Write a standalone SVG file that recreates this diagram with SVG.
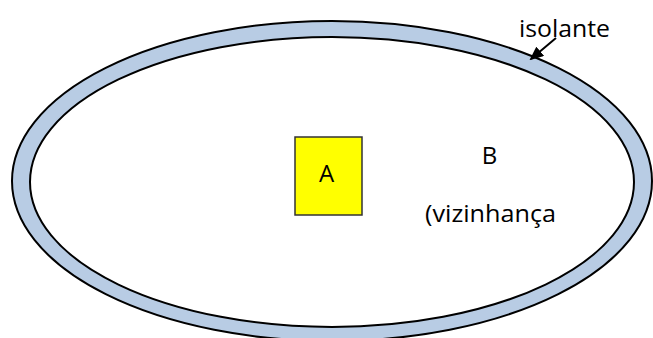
<svg xmlns="http://www.w3.org/2000/svg" width="653" height="338" viewBox="0 0 653 338">
<style>
.t{font-family:"Open Sans","Liberation Sans",sans-serif;font-size:24px;fill:#000}
</style>
<defs>
<marker id="ah" markerWidth="14" markerHeight="12" refX="12" refY="6" orient="auto" markerUnits="userSpaceOnUse">
<path d="M0,0 L14,6 L0,12 z" fill="#000"/>
</marker>
</defs>
<rect width="653" height="338" fill="#fff"/>
<g id="isolante">
<ellipse cx="332" cy="181" rx="320" ry="160" fill="#b8cce4" stroke="#000" stroke-width="2"/>
<ellipse cx="332" cy="182" rx="302" ry="145" fill="#fff" stroke="#000" stroke-width="2"/>
</g>
<g id="A">
<rect x="295" y="137" width="67" height="78" fill="#ffff00" stroke="#333" stroke-width="1.5"/>
<text class="t" x="326.5" y="182" text-anchor="middle">A</text>
</g>
<g id="B">
<text class="t" x="489.5" y="164" text-anchor="middle">B</text>
<text class="t" x="425" y="222" textLength="131" lengthAdjust="spacingAndGlyphs">(vizinhança</text>
</g>
<g id="label">
<text class="t" x="519" y="37" textLength="91" lengthAdjust="spacingAndGlyphs">isolante</text>
</g>
<g id="connectors">
<line x1="556" y1="38" x2="531" y2="59" stroke="#000" stroke-width="2" marker-end="url(#ah)"/>
</g>
</svg>
